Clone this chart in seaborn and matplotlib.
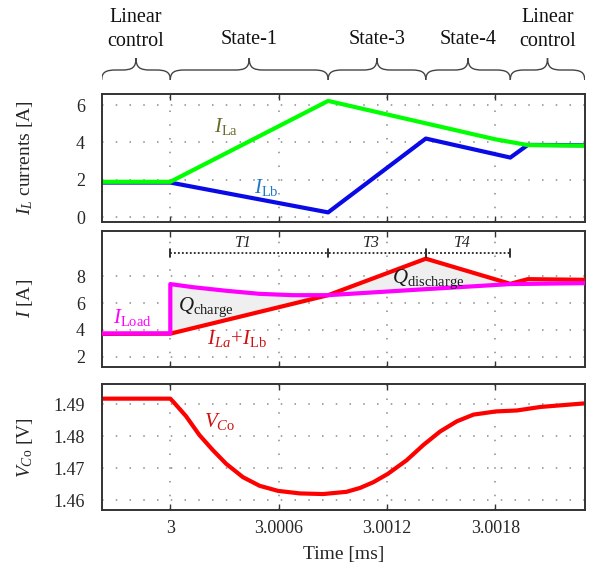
import numpy as np
import pandas as pd
import seaborn as sns
import matplotlib
matplotlib.use("Agg")
import matplotlib.pyplot as plt
from matplotlib.path import Path
from matplotlib.patches import PathPatch

# ---------------- data (time in ms) ----------------
x_min, x_max = 2.99962, 3.002295
phase_bounds = [x_min, 3.0, 3.000874, 3.001415, 3.001883, x_max]
phase_labels = [["Linear", "control"], ["State-1"], ["State-3"], ["State-4"], ["Linear", "control"]]

t_la = [2.99962, 3.0, 3.000874, 3.0018, 3.00198, 3.002295]
i_la = [1.89, 1.89, 6.23, 4.17, 3.86, 3.83]

t_lb = [2.99962, 3.0, 3.000874, 3.001415, 3.001883, 3.00198, 3.002295]
i_lb = [1.85, 1.85, 0.25, 4.21, 3.19, 3.87, 3.85]

t_sum = [2.99962, 3.0, 3.000874, 3.001415, 3.001883, 3.00198, 3.002295]
i_sum = [3.70, 3.72, 6.60, 9.33, 7.45, 7.80, 7.75]

t_load = [2.99962, 3.0, 3.0, 3.000124, 3.000309, 3.000494, 3.000679, 3.000874,
          3.001415, 3.001883, 3.002295]
i_load = [3.74, 3.74, 7.43, 7.20, 6.93, 6.70, 6.60, 6.60, 7.05, 7.43, 7.50]

t_vco = [2.99962, 3.0, 3.00002, 3.000087, 3.000161, 3.000235, 3.000309, 3.000402, 3.000494,
         3.000596, 3.000717, 3.000846, 3.000976, 3.00105, 3.001124, 3.001204,
         3.001309, 3.001402, 3.001494, 3.001587, 3.001679, 3.001804, 3.00192,
         3.00205, 3.00229]
v_co = [1.4918, 1.4918, 1.4906, 1.4863, 1.4804, 1.4757, 1.4714, 1.4672, 1.4645,
        1.4629, 1.4621, 1.4619, 1.4626, 1.4638, 1.4656, 1.4682,
        1.4725, 1.4773, 1.4815, 1.4847, 1.4868, 1.4878, 1.4881,
        1.4892, 1.4903]

x_ticks = [3.0, 3.0006, 3.0012, 3.0018]
x_tick_labels = ["3", "3.0006", "3.0012", "3.0018"]

# ---------------- style ----------------
sns.set_theme(style="white")
plt.rcParams["font.family"] = ["Liberation Serif", "DejaVu Serif"]
plt.rcParams["mathtext.fontset"] = "custom"
plt.rcParams["mathtext.rm"] = "Liberation Serif"
plt.rcParams["mathtext.it"] = "Liberation Serif:italic"
plt.rcParams["mathtext.bf"] = "Liberation Serif:bold"

W, H = 589, 574
fig = plt.figure(figsize=(W / 100, H / 100), dpi=100)

def add_ax(top_px, bot_px, left_px=101.7, right_px=584.7):
    return fig.add_axes([left_px / W, 1 - bot_px / H, (right_px - left_px) / W,
                         (bot_px - top_px) / H])

ax1 = add_ax(94, 221.7)
ax2 = add_ax(231, 366.7)
ax3 = add_ax(384.3, 510)
hax = add_ax(0, 90)

GREEN, BLUE, RED, MAG = "#00ff00", "#0a0ae6", "#ff0000", "#ff00ff"

# top panel
sns.lineplot(x=t_lb, y=i_lb, ax=ax1, color=BLUE, lw=3, estimator=None, sort=False)
sns.lineplot(x=t_la, y=i_la, ax=ax1, color=GREEN, lw=3, estimator=None, sort=False)
ax1.set_ylim(-0.25, 6.6)
ax1.set_yticks([0, 2, 4, 6])

# middle panel with shaded charge areas
xs = np.linspace(3.0, phase_bounds[4], 400)
load_i = np.interp(xs, t_load[2:], i_load[2:])
sum_i = np.interp(xs, t_sum, i_sum)
ax2.fill_between(xs, load_i, sum_i, where=xs <= phase_bounds[2], color="#efefef", lw=0, zorder=1)
ax2.fill_between(xs, load_i, sum_i, where=xs >= phase_bounds[2], color="#efefef", lw=0, zorder=1)
sns.lineplot(x=t_sum, y=i_sum, ax=ax2, color=RED, lw=3, estimator=None, sort=False, zorder=3)
sns.lineplot(x=t_load, y=i_load, ax=ax2, color=MAG, lw=3, estimator=None, sort=False, zorder=3)
ax2.set_ylim(1.25, 11.4)
ax2.set_yticks([2, 4, 6, 8])

# dimension line T1/T3/T4
ydim = 9.75
ax2.plot([phase_bounds[1], phase_bounds[4]], [ydim, ydim], color="#222222", lw=1.3,
         ls=(0, (1, 1.2)), zorder=4)
for b in phase_bounds[1:5]:
    ax2.plot([b, b], [ydim - 0.3, ydim + 0.3], color="#222222", lw=1.3, zorder=4)
for lab, a, b in zip(["T1", "T3", "T4"], phase_bounds[1:4], phase_bounds[2:5]):
    ax2.text((a + b) / 2 - 0.00003, ydim + 0.75, lab, style="italic", fontsize=11.5,
             ha="center", va="center", color="#222222")

# bottom panel
sns.lineplot(x=t_vco, y=v_co, ax=ax3, color=RED, lw=3, estimator=None, sort=False)
ax3.set_ylim(1.4569, 1.4963)
ax3.set_yticks([1.46, 1.47, 1.48, 1.49])
ax3.set_yticklabels(["1.46", "1.47", "1.48", "1.49"])

for ax in (ax1, ax2, ax3):
    ax.set_xlim(x_min, x_max)
    ax.set_xticks(x_ticks)
    ax.grid(True, color="#8a8a8a", linestyle=(0, (1, 8)), lw=1.1)
    for s in ax.spines.values():
        s.set_color("#333333")
        s.set_linewidth(1.4)
        s.set_visible(True)
    ax.tick_params(axis="x", direction="in", length=4, width=1, color="#333333",
                   top=True, bottom=True, labelsize=13, pad=7)
    ax.tick_params(axis="y", length=0, labelsize=13, pad=12)
    ax.set_xlabel("")
    ax.set_ylabel("")
    ax.set_facecolor("white")

ax1.set_xticklabels([])
ax2.set_xticklabels([])
ax3.set_xticklabels(x_tick_labels)
ax3.set_xlabel("Time [ms]", fontsize=14, labelpad=7)

ax1.set_ylabel(r"$I_L$ currents [A]", fontsize=14)
ax2.set_ylabel(r"$I$ [A]", fontsize=14)
ax3.set_ylabel(r"$V_{C\mathrm{o}}$ [V]", fontsize=14)
for ax in (ax1, ax2, ax3):
    ax.yaxis.set_label_coords(-0.138, 0.5)

# in-plot labels
ax1.text(3.000309, 4.85, r"$I_{\mathrm{La}}$", color="#6b6b2a", fontsize=15, ha="center", va="center")
ax1.text(3.000532, 1.57, r"$I_{\mathrm{Lb}}$", color="#1e78c8", fontsize=15, ha="center", va="center")
ax2.text(2.999789, 4.95, r"$I_{\mathrm{Load}}$", color=MAG, fontsize=15, ha="center", va="center", zorder=5)
ax2.text(3.000198, 5.7, r"$Q_{\mathrm{charge}}$", color="#1a1a1a", fontsize=15, ha="center", va="center", zorder=5)
ax2.text(3.000372, 3.38, r"$I_{La}\!+\!I_{\mathrm{Lb}}$", color="#d01010", fontsize=15, ha="center", va="center", zorder=5)
ax2.text(3.00143, 7.8, r"$Q_{\mathrm{discharge}}$", color="#1a1a1a", fontsize=15, ha="center", va="center", zorder=5)
ax3.text(3.000272, 1.4847, r"$V_{C\mathrm{o}}$", color="#d01010", fontsize=15, ha="center", va="center")

# header with braces
hax.set_xlim(x_min, x_max)
hax.set_ylim(90, 0)
hax.axis("off")
w = 0.00008
y_end, y_mid, y_tip = 80, 70, 58
for (a, b), lab in zip(zip(phase_bounds[:-1], phase_bounds[1:]), phase_labels):
    m = (a + b) / 2
    verts = [(a, y_end), (a, y_mid + 2), (a + w * 0.3, y_mid), (a + w, y_mid),
             (m - w, y_mid),
             (m - w * 0.3, y_mid), (m, y_mid - 2), (m, y_tip),
             (m, y_mid - 2), (m + w * 0.3, y_mid), (m + w, y_mid),
             (b - w, y_mid),
             (b - w * 0.3, y_mid), (b, y_mid + 2), (b, y_end)]
    codes = [Path.MOVETO, Path.CURVE4, Path.CURVE4, Path.CURVE4,
             Path.LINETO,
             Path.CURVE4, Path.CURVE4, Path.CURVE4,
             Path.CURVE4, Path.CURVE4, Path.CURVE4,
             Path.LINETO,
             Path.CURVE4, Path.CURVE4, Path.CURVE4]
    hax.add_patch(PathPatch(Path(verts, codes), fill=False, edgecolor="#444444", lw=1.0))
    if len(lab) == 2:
        hax.text(m, 17, lab[0], fontsize=14.5, ha="center", va="center", color="#111111")
        hax.text(m, 42, lab[1], fontsize=14.5, ha="center", va="center", color="#111111")
    else:
        hax.text(m, 40, lab[0], fontsize=14.5, ha="center", va="center", color="#111111")

fig.savefig("out.png", dpi=100)
